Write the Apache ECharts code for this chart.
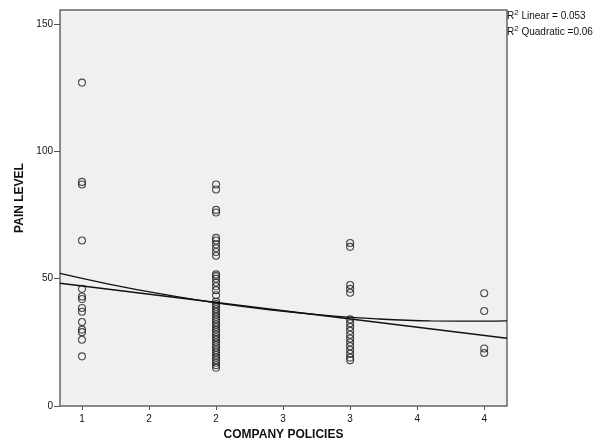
<!DOCTYPE html>
<html>
<head>
<meta charset="utf-8">
<script src="https://cdn.jsdelivr.net/npm/echarts@6/dist/echarts.min.js"></script>
<style>html,body{margin:0;padding:0;background:#fff;}#c{width:607px;height:446px;}</style>
</head>
<body>
<div id="c"></div>
<script>
// Category positions (COMPANY POLICIES) and the PAIN LEVEL values read at each
var policy1 = [127, 88, 87, 65, 46, 43, 42, 38.5, 37, 33, 30, 29, 26, 19.5];
var policy2 = [87, 85, 77, 76, 66, 65, 63.5, 62, 60.5, 59, 51, 51.7, 50, 48.5, 47, 45.5, 43.5,
  41, 40, 39, 38, 37, 36, 35, 34, 33, 32, 31, 30, 29, 28, 27, 26, 25, 24, 23, 22, 21, 20, 19, 18, 17, 16, 15];
var policy3 = [64, 62.5, 47.5, 46, 44.5, 34, 32.5, 31, 29.5, 28, 26.5, 25, 23.5, 22, 20.5, 19, 18];
var policy4 = [44.3, 37.3, 22.6, 20.8];

// Fit lines
var linearX = [0.836, 4.17];
var linearY = [48.2, 26.6];
var quadX = [0.836, 1.2, 1.6, 2, 2.4, 2.8, 3.2, 3.6, 4, 4.17];
var quadY = [52.1, 47.9, 43.9, 40.5, 37.8, 35.7, 34.2, 33.4, 33.3, 33.4];

// Tick positions and labels
var xTicks = [1, 1.5, 2, 2.5, 3, 3.5, 4];
var xTickLabels = ['1', '2', '2', '3', '3', '4', '4'];
var yTicks = [0, 50, 100, 150];
var yTickLabels = ['0', '50', '100', '150'];

var groups = [[1, policy1], [2, policy2], [3, policy3], [4, policy4]];
var points = [];
groups.forEach(function (g) { g[1].forEach(function (v) { points.push([g[0], v]); }); });
var linData = linearX.map(function (x, i) { return [x, linearY[i]]; });
var quadData = quadX.map(function (x, i) { return [x, quadY[i]]; });

var FONT = '"Liberation Sans", Arial, sans-serif';
function richStyle() {
  return {
    r: { fontFamily: FONT, fontSize: 10, fill: '#111', lineHeight: 12, verticalAlign: 'bottom' },
    s: { fontFamily: FONT, fontSize: 8, fill: '#111', lineHeight: 12, verticalAlign: 'top' },
    t: { fontFamily: FONT, fontSize: 10, fill: '#111', lineHeight: 12, verticalAlign: 'bottom' }
  };
}
var chart = echarts.init(document.getElementById('c'));
chart.setOption({
  animation: false,
  backgroundColor: '#ffffff',
  grid: {
    left: 60, right: 100, top: 10, bottom: 39,
    show: true, backgroundColor: '#f0f0f0', borderColor: '#666666', borderWidth: 1.5
  },
  xAxis: {
    type: 'value', min: 0.836, max: 4.17,
    name: 'COMPANY POLICIES', nameLocation: 'middle', nameGap: 23,
    nameTextStyle: { fontFamily: FONT, fontSize: 12, fontWeight: 'bold', color: '#111' },
    axisLine: { show: false },
    splitLine: { show: false },
    axisTick: { show: true, length: 4, lineStyle: { color: '#555', width: 1 }, customValues: xTicks },
    axisLabel: {
      customValues: xTicks, margin: 8,
      fontFamily: FONT, fontSize: 10, color: '#111',
      formatter: function (v) { var i = xTicks.indexOf(v); return i >= 0 ? xTickLabels[i] : ''; }
    }
  },
  yAxis: {
    type: 'value', min: 0, max: 155.5,
    name: 'PAIN LEVEL', nameLocation: 'middle', nameGap: 33, nameRotate: 90,
    nameTextStyle: { fontFamily: FONT, fontSize: 12, fontWeight: 'bold', color: '#111', padding: [0, 0, 0, 20] },
    axisLine: { show: false },
    splitLine: { show: false },
    axisTick: { show: true, length: 6, lineStyle: { color: '#555', width: 1 }, customValues: yTicks },
    axisLabel: {
      customValues: yTicks, margin: 7,
      fontFamily: FONT, fontSize: 10, color: '#111',
      formatter: function (v) { var i = yTicks.indexOf(v); return i >= 0 ? yTickLabels[i] : ''; }
    }
  },
  graphic: [
    { type: 'text', left: 507, top: 9, style: { text: '{r|R}{s|2}{t| Linear = 0.053}', rich: richStyle() } },
    { type: 'text', left: 507, top: 25, style: { text: '{r|R}{s|2}{t| Quadratic =0.06}', rich: richStyle() } }
  ],
  series: [
    {
      type: 'scatter', data: points, symbol: 'circle', symbolSize: 7,
      itemStyle: { color: 'rgba(0,0,0,0)', borderColor: '#222', borderWidth: 1.1 },
      z: 3
    },
    {
      type: 'line', data: linData, showSymbol: false, symbol: 'none',
      lineStyle: { color: '#111', width: 1.3 }, z: 4
    },
    {
      type: 'line', data: quadData, showSymbol: false, symbol: 'none', smooth: 0.4,
      lineStyle: { color: '#111', width: 1.3 }, z: 4
    }
  ]
});
</script>
</body>
</html>
